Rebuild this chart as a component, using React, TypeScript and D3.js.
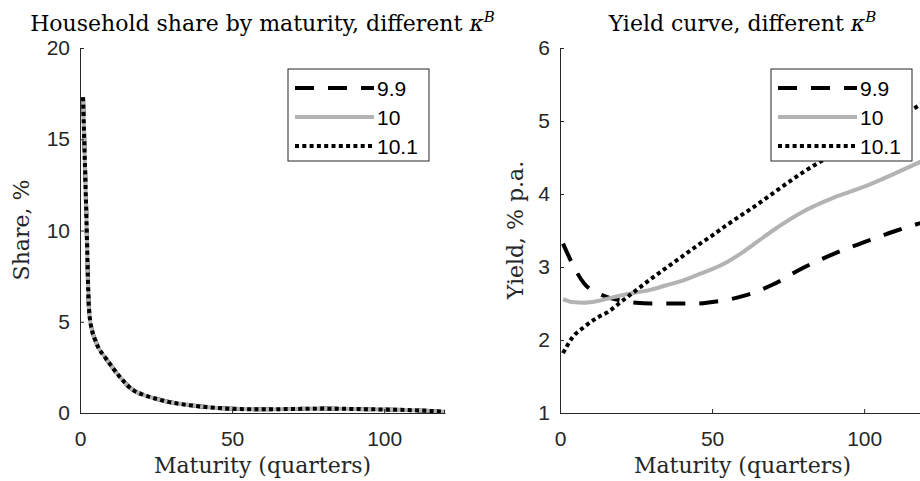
import React, { useEffect, useRef } from 'react';
import * as d3 from 'd3';

// maturities (quarters) and household share, %  (all three kappa^B runs overlap)
const shareMaturity = [1, 2, 3, 4, 5, 6, 8, 10, 12, 14, 16, 18, 20, 25, 30, 35, 40, 45, 50, 60, 70, 80, 90, 100, 110, 120];
const share99 = [17.3, 11.4, 5.6, 4.5, 4.0, 3.6, 3.1, 2.65, 2.2, 1.8, 1.45, 1.2, 1.05, 0.78, 0.58, 0.45, 0.35, 0.28, 0.23, 0.2, 0.22, 0.24, 0.22, 0.19, 0.15, 0.07];
const share10 = share99;
const share101 = share99;

// yield curve, % p.a.
const yieldMaturity = [1, 4, 8, 12, 16, 20, 25, 30, 35, 40, 45, 50, 55, 60, 65, 70, 80, 90, 100, 110, 120];
const yield99 = [3.32, 3.05, 2.77, 2.65, 2.58, 2.54, 2.51, 2.5, 2.5, 2.5, 2.5, 2.52, 2.55, 2.6, 2.67, 2.76, 2.99, 3.18, 3.34, 3.49, 3.62];
const yield10 = [2.56, 2.52, 2.51, 2.53, 2.57, 2.61, 2.65, 2.69, 2.75, 2.81, 2.89, 2.97, 3.07, 3.2, 3.35, 3.5, 3.76, 3.95, 4.1, 4.28, 4.47];
const yield101 = [1.82, 2.03, 2.18, 2.3, 2.39, 2.52, 2.68, 2.84, 2.99, 3.14, 3.29, 3.43, 3.58, 3.72, 3.86, 4.01, 4.3, 4.55, 4.78, 5.02, 5.26];

const seriesNames = ['9.9', '10', '10.1'];
const xTicks = [0, 50, 100];
const shareTicks = [0, 5, 10, 15, 20];
const yieldTicks = [1, 2, 3, 4, 5, 6];

const AXIS = '#262626';
const SERIF = '"DejaVu Serif", "Liberation Serif", serif';
const SANS = '"Liberation Sans", Arial, sans-serif';

// line styles, in plotting order: dashed black, solid gray, dotted black
const styles = [
  { color: '#000', dash: '19 14' },
  { color: '#b3b3b3', dash: null },
  { color: '#000', dash: '4 3.3' },
];

const App = () => {
  const svgRef = useRef();

  useEffect(() => {
    const svg = d3.select(svgRef.current);
    svg.selectAll('*').remove();

    const panels = [
      {
        x0: 80, yDomain: [0, 20], yTicks: shareTicks, xs: shareMaturity,
        series: [share99, share10, share101],
        title: 'Household share by maturity, different ',
        ylabel: 'Share, %', ylabelX: 29, legendX: 288,
      },
      {
        x0: 560, yDomain: [1, 6], yTicks: yieldTicks, xs: yieldMaturity,
        series: [yield99, yield10, yield101],
        title: 'Yield curve, different ',
        ylabel: 'Yield, % p.a.', ylabelX: 523, legendX: 771,
      },
    ];

    panels.forEach((p, pi) => {
      const xScale = d3.scaleLinear().domain([0, 120]).range([p.x0, p.x0 + 365]);
      const yScale = d3.scaleLinear().domain(p.yDomain).range([413, 48]);
      const g = svg.append('g');
      const cx = p.x0 + 182.5;

      // clip to axes area
      const clipId = `clip${pi}`;
      svg.append('clipPath').attr('id', clipId)
        .append('rect')
        .attr('x', p.x0).attr('y', 40).attr('width', 370).attr('height', 376);

      // data lines
      const line = d3.line()
        .x((d) => xScale(d[0]))
        .y((d) => yScale(d[1]))
        .curve(d3.curveMonotoneX);

      p.series.forEach((vals, si) => {
        const pts = p.xs.map((m, i) => [m, vals[i]]);
        g.append('path')
          .datum(pts)
          .attr('clip-path', `url(#${clipId})`)
          .attr('fill', 'none')
          .attr('stroke', styles[si].color)
          .attr('stroke-width', 4)
          .attr('stroke-dasharray', styles[si].dash)
          .attr('d', line);
      });

      // axes (box off, ticks inward)
      const xAxis = g.append('g')
        .attr('transform', 'translate(0,413)')
        .call(d3.axisBottom(xScale).tickValues(xTicks).tickSize(-4).tickPadding(18).tickSizeOuter(0));
      const yAxis = g.append('g')
        .attr('transform', `translate(${p.x0},0)`)
        .call(d3.axisLeft(yScale).tickValues(p.yTicks).tickFormat(d3.format('d')).tickSize(-4).tickPadding(10).tickSizeOuter(0));
      [xAxis, yAxis].forEach((ax) => {
        ax.select('.domain').attr('stroke', AXIS).attr('stroke-width', 1);
        ax.selectAll('line').attr('stroke', AXIS).attr('stroke-width', 1);
        ax.selectAll('text').attr('fill', AXIS).style('font-family', SANS).style('font-size', '21px');
      });

      // title with kappa^B
      const t = g.append('text')
        .attr('x', cx).attr('y', 31)
        .attr('text-anchor', 'middle')
        .style('font-family', SERIF).style('font-size', '22px').attr('fill', '#000');
      t.append('tspan').text(p.title);
      t.append('tspan').style('font-style', 'italic').text('κ');
      t.append('tspan').style('font-style', 'italic').style('font-size', '15px').attr('dy', -9).text('B');

      // axis labels
      g.append('text')
        .attr('x', cx).attr('y', 473)
        .attr('text-anchor', 'middle')
        .style('font-family', SERIF).style('font-size', '22px').attr('fill', AXIS)
        .text('Maturity (quarters)');
      g.append('text')
        .attr('transform', `translate(${p.ylabelX},230) rotate(-90)`)
        .attr('text-anchor', 'middle')
        .style('font-family', SERIF).style('font-size', '22px').attr('fill', AXIS)
        .text(p.ylabel);

      // legend
      const lg = g.append('g').attr('transform', `translate(${p.legendX},69)`);
      lg.append('rect')
        .attr('width', 141).attr('height', 92)
        .attr('fill', '#fff').attr('stroke', AXIS).attr('stroke-width', 1);
      seriesNames.forEach((name, si) => {
        const yy = 19 + si * 29;
        lg.append('line')
          .attr('x1', 7).attr('x2', 86).attr('y1', yy).attr('y2', yy)
          .attr('stroke', styles[si].color)
          .attr('stroke-width', 4)
          .attr('stroke-dasharray', styles[si].dash);
        lg.append('text')
          .attr('x', 89).attr('y', yy).attr('dy', '0.36em')
          .style('font-family', SANS).style('font-size', '21px').attr('fill', '#000')
          .text(name);
      });
    });
  }, []);

  return (
    <svg
      ref={svgRef}
      width={920}
      height={481}
      style={{ position: 'absolute', left: 0, top: 0, background: '#fff' }}
    ></svg>
  );
};

export default App;
